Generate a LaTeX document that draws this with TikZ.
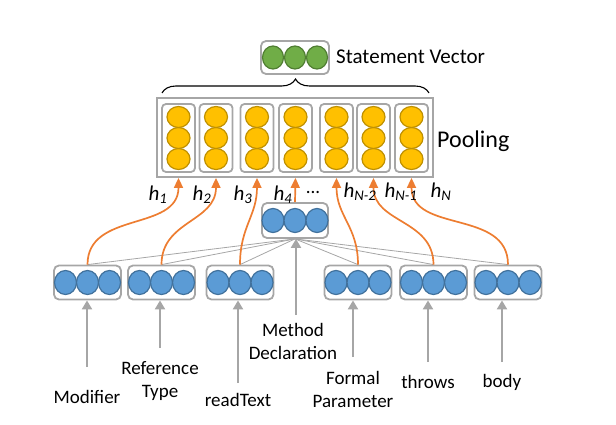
\documentclass[tikz,border=0pt]{standalone}
\usepackage{fontspec}
\setmainfont{Carlito}
\usetikzlibrary{shapes.geometric,decorations.pathreplacing,arrows.meta}
\definecolor{bluef}{HTML}{5B9BD5}
\definecolor{blued}{HTML}{41719C}
\definecolor{yelf}{HTML}{FFC000}
\definecolor{yeld}{HTML}{BF9000}
\definecolor{grnf}{HTML}{70AD47}
\definecolor{grnd}{HTML}{507E32}
\definecolor{boxg}{HTML}{A6A6A6}
\definecolor{orng}{HTML}{ED7D31}
\begin{document}
\begin{tikzpicture}[x=1pt,y=-1pt,
  unitbox/.style={draw=boxg, line width=1.8pt, rounded corners=5pt, minimum width=67pt, minimum height=34pt, inner sep=0pt},
  colbox/.style={draw=boxg, line width=1.8pt, rounded corners=4pt, minimum width=33pt, minimum height=68pt, inner sep=0pt},
  poolbox/.style={draw=boxg, line width=1.8pt, minimum width=276pt, minimum height=79pt, inner sep=0pt},
  bdot/.style={ellipse, draw=blued, fill=bluef, line width=1.2pt, minimum width=22pt, minimum height=24pt, inner sep=0pt},
  ydot/.style={ellipse, draw=yeld, fill=yelf, line width=1.2pt, minimum width=23pt, minimum height=21pt, inner sep=0pt},
  gdot/.style={ellipse, draw=grnd, fill=grnf, line width=1.2pt, minimum width=21pt, minimum height=23pt, inner sep=0pt},
  lbl/.style={font=\fontsize{19}{23}\selectfont, align=center, inner sep=0pt},
  hlbl/.style={font=\fontsize{21}{24}\selectfont\itshape, inner sep=0pt},
  orarrow/.style={draw=orng, line width=1.7pt, -{Triangle[length=10pt,width=9pt]}},
  grarrow/.style={draw=boxg, line width=2.2pt, -{Triangle[length=9pt,width=10pt]}},
  fanline/.style={draw=boxg, line width=0.8pt}
]
\useasboundingbox (0,0) rectangle (616,425);

% statement vector
\node[unitbox, minimum width=68pt, minimum height=33pt] (s) at (295,57.5) {};
\foreach \i/\dx in {1/-22,2/0,3/22}
  \node[gdot] (s\i) at ([xshift=\dx pt]s.center) {};
\node[lbl, anchor=west, font=\fontsize{21}{24}\selectfont] (stxt) at (336,57) {Statement Vector};

% brace
\coordinate (brl) at (162,93);
\coordinate (brr) at (429,93);
\draw[decorate, decoration={brace, amplitude=14pt}, line width=1.1pt] (brl) -- (brr);

% pooling
\node[poolbox] (P) at (295,137.5) {};
\foreach \i/\x in {1/178.5,2/216,3/257,4/295.5,5/336.5,6/373.5,7/411.5}{
  \node[colbox] (p\i) at (\x,138) {};
  \foreach \j/\dy in {1/-21,2/0,3/21}
    \node[ydot] (p\i y\j) at ([yshift=\dy pt]p\i.center) {};
}
\node[lbl, anchor=west, font=\fontsize{24}{28}\selectfont] (pool) at (437,141) {Pooling};

% middle (method declaration) box
\node[unitbox, minimum width=66pt, minimum height=35pt] (m) at (295,220.5) {};
\foreach \i/\dx in {1/-22,2/0,3/22}
  \node[bdot] (m\i) at ([xshift=\dx pt]m.center) {};

% bottom boxes
\foreach \i/\x in {1/87.5,2/161.5,3/240,4/358,5/433.5,6/508}{
  \node[unitbox] (b\i) at (\x,282.5) {};
  \foreach \j/\dx in {1/-22,2/0,3/22}
    \node[bdot] (b\i c\j) at ([xshift=\dx pt]b\i.center) {};
}

% fan lines
\foreach \i in {1,...,6}
  \draw[fanline] (m.south) -- (b\i.north);

% orange arrows
\draw[orarrow] (b1.north) to[out=90,in=-90,looseness=1.1] (p1 |- P.south);
\draw[orarrow] (b2.north) to[out=90,in=-90,looseness=1.1] (p2 |- P.south);
\draw[orarrow] (b3.north) to[out=90,in=-90,looseness=1.1] (p3 |- P.south);
\draw[orarrow] (m.north) -- (p4 |- P.south);
\draw[orarrow] (b4.north) to[out=90,in=-90,looseness=1.1] (p5 |- P.south);
\draw[orarrow] (b5.north) to[out=90,in=-90,looseness=1.1] (p6 |- P.south);
\draw[orarrow] (b6.north) to[out=90,in=-90,looseness=1.1] (p7 |- P.south);

% h labels
\node[hlbl] (h1) at (158,195) {h\textsubscript{1}};
\node[hlbl] (h2) at (202,195) {h\textsubscript{2}};
\node[hlbl] (h3) at (243,195) {h\textsubscript{3}};
\node[hlbl] (h4) at (283,195) {h\textsubscript{4}};
\node[hlbl, font=\fontsize{19}{23}\selectfont] (hd) at (313,192) {...};
\node[hlbl] (hn2) at (360,192) {h\textsubscript{N-2}};
\node[hlbl] (hn1) at (401,192) {h\textsubscript{N-1}};
\node[hlbl] (hn) at (441,192) {h\textsubscript{N}};

% bottom labels
\node[lbl] (t1) at (87,397) {Modifier};
\node[lbl] (t2) at (160,381) {Reference\\Type};
\node[lbl] (t3) at (238,400) {readText};
\node[lbl] (tm) at (293,341) {Method\\Declaration};
\node[lbl] (t4) at (353,389) {Formal\\Parameter};
\node[lbl] (t5) at (428,382) {throws};
\node[lbl] (t6) at (502,382) {body};

% gray input arrows
\coordinate (a1) at (87,367);
\coordinate (a2) at (160,348);
\coordinate (a3) at (238,383);
\coordinate (am) at (296,315);
\coordinate (a4) at (353,357);
\coordinate (a5) at (428,362);
\coordinate (a6) at (502,362);
\draw[grarrow] (a1) -- (a1 |- b1.south);
\draw[grarrow] (a2) -- (a2 |- b2.south);
\draw[grarrow] (a3) -- (a3 |- b3.south);
\draw[grarrow] (am) -- (am |- m.south);
\draw[grarrow] (a4) -- (a4 |- b4.south);
\draw[grarrow] (a5) -- (a5 |- b5.south);
\draw[grarrow] (a6) -- (a6 |- b6.south);
\end{tikzpicture}
\end{document}
